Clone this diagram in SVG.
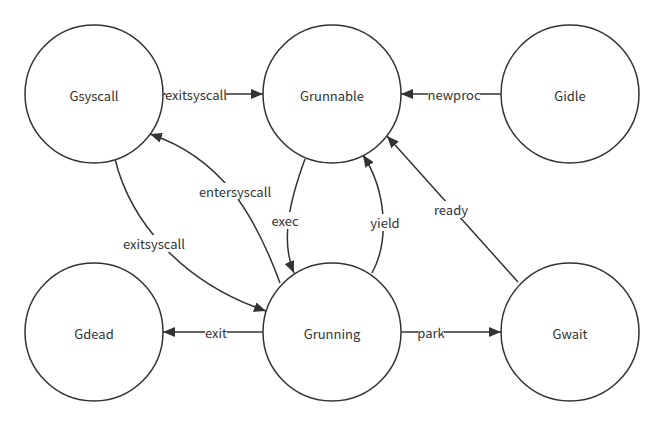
<svg xmlns="http://www.w3.org/2000/svg" width="664" height="426" viewBox="0 0 664 426">
<defs>
<marker id="arr" viewBox="0 0 12 10" refX="12" refY="5" markerWidth="12" markerHeight="10" markerUnits="userSpaceOnUse" orient="auto">
<path d="M0,0 L12,5 L0,10 z" fill="#333"/>
</marker>
<style>
.node circle{fill:#fff;stroke:#333;stroke-width:1.5}
.node text{font-family:"Noto Sans CJK SC","Source Sans Pro",sans-serif;font-size:13px;fill:#333;text-anchor:middle;dominant-baseline:central}
.edge{fill:none;stroke:#333;stroke-width:1.5;marker-end:url(#arr)}
.lbl rect{fill:#fff}
.lbl text{font-family:"Noto Sans CJK SC","Source Sans Pro",sans-serif;font-size:13px;fill:#333;text-anchor:middle;dominant-baseline:central}
</style>
</defs>
<rect width="664" height="426" fill="#fff"/>
<g id="connectors">
<path class="edge" d="M163,94 L263,94"/>
<path class="edge" d="M501,94 L401,94"/>
<path class="edge" d="M263,332 L163,332"/>
<path class="edge" d="M401,332 L501,332"/>
<path class="edge" d="M518,282 L387,136"/>
<path class="edge" d="M305,159 C290,200 280,240 294,273"/>
<path class="edge" d="M372,273 C390,240 386,190 363,155"/>
<path class="edge" d="M280,283 C255,215 222,158 150,134"/>
<path class="edge" d="M115,159 C130,220 180,282 266,311"/>
<g class="lbl"><rect x="166" y="86" width="60" height="17"/><text x="196" y="94">exitsyscall</text></g>
<g class="lbl"><rect x="428" y="86" width="52" height="17"/><text x="454" y="94">newproc</text></g>
<g class="lbl"><rect x="205" y="324" width="22" height="17"/><text x="216" y="332">exit</text></g>
<g class="lbl"><rect x="418" y="324" width="26" height="17"/><text x="431" y="332">park</text></g>
<g class="lbl"><rect x="435" y="201" width="32" height="17"/><text x="451" y="209">ready</text></g>
<g class="lbl"><rect x="272" y="212" width="26" height="17"/><text x="285" y="220">exec</text></g>
<g class="lbl"><rect x="371" y="214" width="28" height="17"/><text x="385" y="222">yield</text></g>
<g class="lbl"><rect x="200" y="183" width="70" height="17"/><text x="235" y="191">entersyscall</text></g>
<g class="lbl"><rect x="124" y="235" width="60" height="17"/><text x="154" y="243">exitsyscall</text></g>
</g>
<g id="Gsyscall" class="node"><circle cx="94" cy="94" r="69"/><text x="94" y="95">Gsyscall</text></g>
<g id="Grunnable" class="node"><circle cx="332" cy="94" r="69"/><text x="332" y="95">Grunnable</text></g>
<g id="Gidle" class="node"><circle cx="570" cy="94" r="69"/><text x="570" y="95">Gidle</text></g>
<g id="Gdead" class="node"><circle cx="94" cy="332" r="69"/><text x="94" y="333">Gdead</text></g>
<g id="Grunning" class="node"><circle cx="332" cy="332" r="69"/><text x="332" y="333">Grunning</text></g>
<g id="Gwait" class="node"><circle cx="570" cy="332" r="69"/><text x="570" y="333">Gwait</text></g>
</svg>
